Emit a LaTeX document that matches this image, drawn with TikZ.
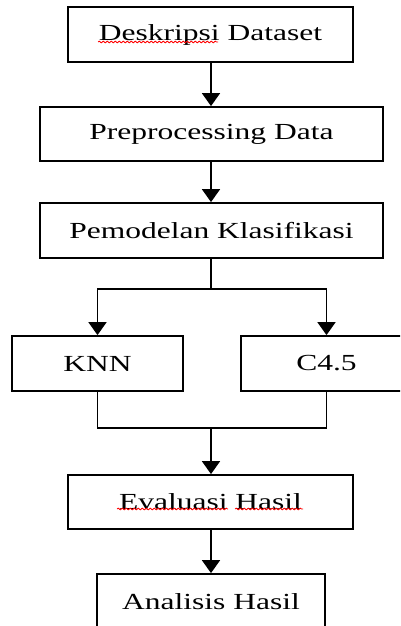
\documentclass[tikz,border=0pt]{standalone}
\usepackage{fontspec}
\setmainfont{Liberation Serif}
\usetikzlibrary{arrows.meta,decorations.pathmorphing}
\newcommand{\wtext}[1]{\scalebox{1.37}[1]{#1}}
\tikzset{
  box/.style={draw, line width=1.8pt, inner sep=0pt, font=\fontsize{23}{27}\selectfont},
  line/.style={line width=1.8pt},
  arr/.style={line width=1.8pt, -{Triangle[width=18pt,length=13pt]}},
  wavy/.style={red, line width=0.8pt, decorate, decoration={snake, amplitude=0.9pt, segment length=4pt}}
}
\begin{document}
\begin{tikzpicture}[x=1pt,y=-1pt]
\clip (0,0) rectangle (400,626);
\fill[white] (0,0) rectangle (400,626);
\node[box, minimum width=285pt, minimum height=55pt] (desk) at (210.5,34.5) {\wtext{Deskripsi Dataset}};
\node[box, minimum width=343pt, minimum height=54pt] (pre) at (211.5,134) {\wtext{Preprocessing Data}};
\node[box, minimum width=343pt, minimum height=55pt] (pem) at (211.5,230.5) {\wtext{Pemodelan Klasifikasi}};
\node[box, minimum width=171pt, minimum height=55pt] (knn) at (97.5,363.5) {\wtext{KNN}};
\node[box, minimum width=171pt, minimum height=55pt] (c45) at (326.5,363.5) {\wtext{C4.5}};
\node[box, minimum width=285pt, minimum height=54pt] (eval) at (210.5,502) {\wtext{Evaluasi Hasil}};
\node[box, minimum width=228pt, minimum height=55pt] (anal) at (211,601.5) {\wtext{Analisis Hasil}};
\draw[arr] (desk.south -| 211,0) -- (pre.north -| 211,0);
\draw[arr] (pre.south -| 211,0) -- (pem.north -| 211,0);
\draw[line] (pem.south -| 211,0) -- (211,289) coordinate (split);
\draw[arr] (split) -| (knn.north);
\draw[arr] (split) -| (c45.north);
\coordinate (merge) at (211,428);
\draw[line] (knn.south) |- (merge) -| (c45.south);
\draw[arr] (merge) -- (eval.north -| merge);
\draw[arr] (eval.south -| 211,0) -- (anal.north -| 211,0);
\draw[wavy] (98,42) -- (218,42);
\draw[wavy] (117,509) -- (228,509);
\draw[wavy] (235,509) -- (303,509);
\end{tikzpicture}
\end{document}
